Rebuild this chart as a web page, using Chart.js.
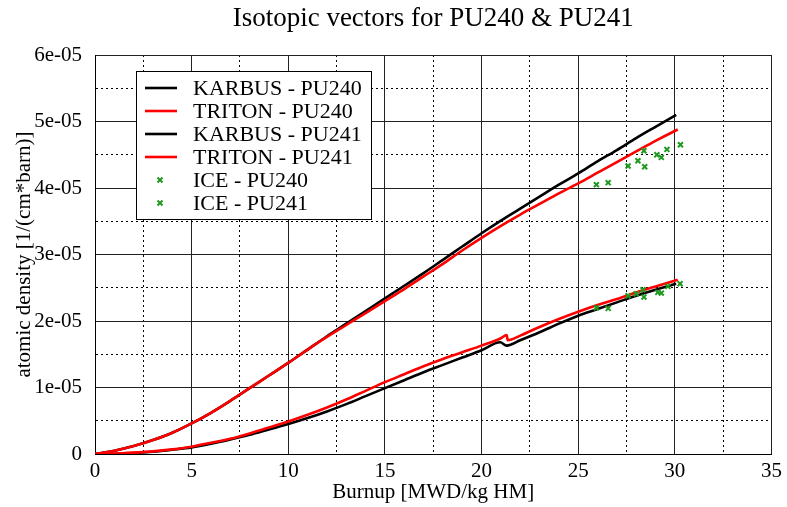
<!DOCTYPE html>
<html><head><meta charset="utf-8">
<script src="https://cdn.jsdelivr.net/npm/chart.js@4/dist/chart.umd.min.js"></script>
<style>html,body{margin:0;padding:0;background:#fff;overflow:hidden}</style>
</head><body>
<canvas id="c" width="787" height="507"></canvas>
<script>
const TITLE = 'Isotopic vectors for PU240 & PU241';
const X_TITLE = 'Burnup [MWD/kg HM]';
const Y_TITLE = 'atomic density [1/(cm*barn)]';
const Y_UNIT = 1e-5;

// grid positions (major every 5 / 1e-05, minor half way)
const X_TICKS = [0, 2.5, 5, 7.5, 10, 12.5, 15, 17.5, 20, 22.5, 25, 27.5, 30, 32.5, 35];
const Y_TICKS = [0, 0.5, 1, 1.5, 2, 2.5, 3, 3.5, 4, 4.5, 5, 5.5, 6];
const X_LABELS = {0:'0', 5:'5', 10:'10', 15:'15', 20:'20', 25:'25', 30:'30', 35:'35'};
const Y_LABELS = {0:'0', 1:'1e-05', 2:'2e-05', 3:'3e-05', 4:'4e-05', 5:'5e-05', 6:'6e-05'};

// series (y in units of 1e-05)
const karbus240X = [0,1,2,3,4,5,6,7,8,9,10,11,12,13,14,15,16,17,18,19,20,21,22,23,24,25,26,27,28,29,30.07];
const karbus240Y = [0,0.05,0.12,0.21,0.32,0.46,0.62,0.80,0.99,1.18,1.37,1.57,1.77,1.96,2.15,2.34,2.53,2.72,2.92,3.12,3.32,3.51,3.69,3.87,4.05,4.22,4.40,4.57,4.75,4.92,5.10];

const triton240X = [0,1,2,3,4,5,6,7,8,9,10,11,12,13,14,15,16,17,18,19,20,21,22,23,24,25,26,27,28,29,30.15];
const triton240Y = [0,0.05,0.12,0.21,0.32,0.46,0.62,0.80,0.99,1.18,1.37,1.57,1.76,1.94,2.12,2.30,2.48,2.67,2.86,3.06,3.25,3.43,3.60,3.76,3.92,4.07,4.23,4.39,4.55,4.71,4.88];

const karbus241X = [0,1,2,3,4,5,6,7,8,9,10,11,12,13,14,15,16,17,18,19,20,20.96,21.3,22,23,24,25,26,27,28,29,30.07];
const karbus241Y = [0,0.003,0.015,0.035,0.065,0.10,0.155,0.22,0.29,0.37,0.45,0.54,0.64,0.75,0.87,0.99,1.11,1.23,1.34,1.45,1.56,1.68,1.63,1.71,1.83,1.96,2.08,2.18,2.28,2.38,2.47,2.56];

const triton241X = [0,1,2,3,4,5,6,7,8,9,10,11,12,13,14,15,16,17,18,19,20,21,21.3,21.35,22,23,24,25,26,27,28,29,30.15];
const triton241Y = [0,0.005,0.02,0.04,0.07,0.11,0.17,0.23,0.31,0.40,0.49,0.59,0.70,0.82,0.95,1.08,1.20,1.32,1.43,1.53,1.63,1.74,1.79,1.71,1.78,1.91,2.03,2.14,2.24,2.33,2.43,2.52,2.62];

const ice240X = [25.94,26.55,27.58,28.09,28.44,28.40,29.07,29.30,29.59,30.29];
const ice240Y = [4.05,4.08,4.33,4.41,4.32,4.56,4.50,4.46,4.58,4.65];
const ice241X = [25.94,26.55,27.58,28.00,28.40,28.35,29.12,29.30,29.64,30.27];
const ice241Y = [2.20,2.19,2.38,2.41,2.36,2.47,2.43,2.42,2.52,2.56];

const FONT = "'Liberation Serif', 'Times New Roman', serif";
const GREEN = '#1f9a1f';

function pts(xs, ys) { return xs.map((x, i) => ({x: x, y: ys[i] * Y_UNIT})); }

function lineSet(label, xs, ys, color, order) {
  return { label, data: pts(xs, ys), borderColor: color, backgroundColor: color,
    borderWidth: 2.6, pointRadius: 0, showLine: true, cubicInterpolationMode: 'monotone',
    order, legendKind: 'line' };
}
function markSet(label, xs, ys, order) {
  return { label, data: pts(xs, ys), borderColor: GREEN, backgroundColor: GREEN,
    borderWidth: 2, pointStyle: 'crossRot', pointRadius: 3.5, showLine: false,
    order, legendKind: 'mark' };
}

const datasets = [
  lineSet('KARBUS - PU240', karbus240X, karbus240Y, '#000000', 4),
  lineSet('TRITON - PU240', triton240X, triton240Y, '#ff0000', 2),
  lineSet('KARBUS - PU241', karbus241X, karbus241Y, '#000000', 3),
  lineSet('TRITON - PU241', triton241X, triton241Y, '#ff0000', 1),
  markSet('ICE - PU240', ice240X, ice240Y, 0),
  markSet('ICE - PU241', ice241X, ice241Y, 0)
];

function isMajor(v, step) { const r = v / step; return Math.abs(r - Math.round(r)) < 1e-6; }

const titlePlugin = {
  id: 'centerTitle',
  afterDraw(chart) {
    const ctx = chart.ctx, a = chart.chartArea;
    ctx.save();
    ctx.font = '27px ' + FONT;
    ctx.fillStyle = '#000';
    ctx.textAlign = 'center';
    ctx.textBaseline = 'middle';
    ctx.fillText(TITLE, (a.left + a.right) / 2, 19);
    ctx.restore();
  }
};

const legendPlugin = {
  id: 'boxLegend',
  afterDraw(chart) {
    const ctx = chart.ctx;
    const bx = 136.5, by = 71.5, bw = 235, bh = 148;
    ctx.save();
    ctx.fillStyle = '#fff';
    ctx.fillRect(bx, by, bw, bh);
    ctx.strokeStyle = '#000';
    ctx.lineWidth = 1;
    ctx.strokeRect(bx, by, bw, bh);
    ctx.font = '22px ' + FONT;
    ctx.textBaseline = 'middle';
    ctx.textAlign = 'left';
    chart.data.datasets.forEach((ds, i) => {
      const y = 88 + i * 23;
      if (ds.legendKind === 'line') {
        ctx.strokeStyle = ds.borderColor;
        ctx.lineWidth = 2.6;
        ctx.beginPath(); ctx.moveTo(145, y); ctx.lineTo(177, y); ctx.stroke();
      } else {
        ctx.strokeStyle = ds.borderColor;
        ctx.lineWidth = 2;
        const cx = 160, r = 2.5;
        ctx.beginPath();
        ctx.moveTo(cx - r, y - r); ctx.lineTo(cx + r, y + r);
        ctx.moveTo(cx + r, y - r); ctx.lineTo(cx - r, y + r);
        ctx.stroke();
      }
      ctx.fillStyle = '#000';
      ctx.fillText(ds.label, 193, y + 1);
    });
    ctx.restore();
  }
};

new Chart(document.getElementById('c'), {
  type: 'line',
  data: { datasets },
  plugins: [titlePlugin, legendPlugin],
  options: {
    responsive: false,
    animation: false,
    layout: { padding: { top: 55, right: 12, left: 0, bottom: 0 } },
    plugins: { legend: { display: false }, title: { display: false }, tooltip: { enabled: false } },
    scales: {
      x: {
        type: 'linear', min: 0, max: 35,
        afterFit(s) { s.height = 53; },
        afterBuildTicks(s) { s.ticks = X_TICKS.map(v => ({value: v})); },
        ticks: {
          autoSkip: false, maxRotation: 0, padding: 5, color: '#000',
          font: { family: FONT, size: 21 },
          callback: (v) => (X_LABELS[v] !== undefined ? X_LABELS[v] : '')
        },
        grid: {
          drawTicks: false,
          color: (c) => (c.tick && isMajor(c.tick.value, 5) ? '#222' : '#000'),
          lineWidth: 1
        },
        border: {
          display: true, color: '#000', width: 1,
          dash: (c) => (c.tick && !isMajor(c.tick.value, 5) ? [2, 3] : [])
        },
        title: { display: true, text: X_TITLE, color: '#000', font: { family: FONT, size: 21 }, padding: { top: 0, bottom: 2 } }
      },
      y: {
        type: 'linear', min: 0, max: 6 * Y_UNIT,
        afterFit(s) { s.width = 95; },
        afterBuildTicks(s) { s.ticks = Y_TICKS.map(v => ({value: v * Y_UNIT})); },
        ticks: {
          autoSkip: false, padding: 13, color: '#000',
          font: { family: FONT, size: 21 },
          callback: (v) => { const k = Math.round(v / Y_UNIT * 10) / 10; return Y_LABELS[k] !== undefined ? Y_LABELS[k] : ''; }
        },
        grid: {
          drawTicks: false,
          color: (c) => (c.tick && isMajor(c.tick.value / Y_UNIT, 1) ? '#222' : '#000'),
          lineWidth: 1
        },
        border: {
          display: true, color: '#000', width: 1,
          dash: (c) => (c.tick && !isMajor(c.tick.value / Y_UNIT, 1) ? [2, 3] : [])
        },
        title: { display: true, text: Y_TITLE, color: '#000', font: { family: FONT, size: 21 }, padding: { top: 12, bottom: 0 } }
      }
    }
  }
});
</script>
</body></html>
